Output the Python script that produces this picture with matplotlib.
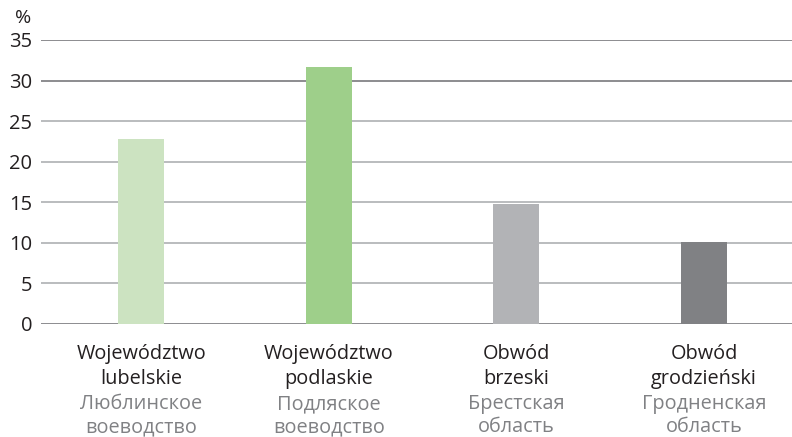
import matplotlib
matplotlib.use("Agg")
import matplotlib.pyplot as plt
from matplotlib.transforms import blended_transform_factory

plt.rcParams['font.family'] = ['Open Sans', 'DejaVu Sans']

# data
regions_pl = [["Województwo", "lubelskie"], ["Województwo", "podlaskie"],
              ["Obwód", "brzeski"], ["Obwód", "grodzieński"]]
regions_ru = [["Люблинское", "воеводство"], ["Подляское", "воеводство"],
              ["Брестская", "область"], ["Гродненская", "область"]]
values = [22.8, 31.7, 14.8, 10.1]
colors = ["#cce3c1", "#9ecf8a", "#b2b3b6", "#808184"]
yticks = [0, 5, 10, 15, 20, 25, 30, 35]

fig = plt.figure(figsize=(7.92, 4.37), dpi=100)
ax = fig.add_axes([0.052, 0.2586, 0.948, 0.6499])

x = list(range(len(values)))
ax.bar(x, values, width=0.245, color=colors, zorder=3)

ax.set_xlim(-0.533, 3.469)
ax.set_ylim(0, 35)
ax.set_yticks(yticks)
ax.set_yticklabels([str(t) for t in yticks], fontsize=14.5, color="#231f20")
ax.tick_params(axis='y', length=0, pad=6.5)
ax.set_xticks([])
for t in yticks:
    ax.axhline(t, color="#6d6e71" if t in (0, 30, 35) else "#a7a9ac", lw=1.1, zorder=1)
for s in ax.spines.values():
    s.set_visible(False)

fig.text(23 / 792, 1 - 18 / 437, "%", ha='center', va='center', fontsize=14, color="#231f20")

# category labels: polish lines black, russian lines gray
tr = blended_transform_factory(ax.transData, fig.transFigure)
baselines = [359, 384, 409, 432]
for i in x:
    lines = regions_pl[i] + regions_ru[i]
    for j, line in enumerate(lines):
        ax.text(i, 1 - baselines[j] / 437, line, transform=tr, ha='center', va='baseline',
                fontsize=14.3, color="#231f20" if j < 2 else "#808184")

fig.savefig("out.png", dpi=100)
